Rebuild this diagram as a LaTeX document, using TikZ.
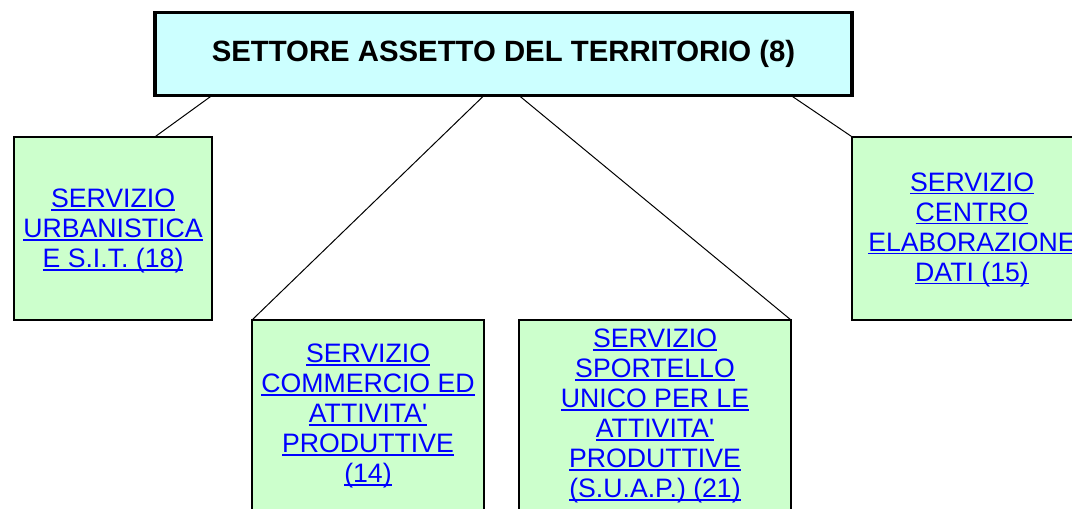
\documentclass[tikz,border=0pt]{standalone}
\usepackage{fontspec}
\setmainfont{Liberation Sans}
\definecolor{titlecyan}{HTML}{CCFFFF}
\definecolor{boxgreen}{HTML}{CCFFCC}
\definecolor{linkblue}{HTML}{0000FF}
\newcommand{\lnk}[1]{\leavevmode\setbox0\hbox{#1}\rlap{\rule[-2.2pt]{\wd0}{1.1pt}}\box0}
\begin{document}
\begin{tikzpicture}[x=0.75pt,y=-0.75pt]
    \tikzstyle{every node}+=[inner sep=0pt,outer sep=0pt]
    \tikzstyle{titlebox}=[draw=black,line width=2.4pt,fill=titlecyan,minimum width=522.75pt,minimum height=62.25pt,font=\fontsize{22}{24}\selectfont\bfseries]
    \tikzstyle{unitbox}=[draw=black,line width=1.6pt,fill=boxgreen]
    \tikzstyle{unitname}=[align=center,text=linkblue,font=\fontsize{20}{22.5}\selectfont]
    \tikzstyle{branch}=[line width=0.75pt]
    \useasboundingbox (0,0) rectangle (1072,508);
    \node[titlebox] (settore) at (503.5,54) {SETTORE ASSETTO DEL TERRITORIO (8)};
    \node[unitbox,minimum width=148.5pt,minimum height=137.25pt] (urb) at (113,228.3) {};
    \node[unitbox,minimum width=174pt,minimum height=187.5pt,anchor=north] (comm) at (368,320) {};
    \node[unitbox,minimum width=204pt,minimum height=187.5pt,anchor=north] (suap) at (655,320) {};
    \node[unitbox,minimum width=180pt,minimum height=137.25pt] (ced) at (972,228.3) {};
    \node[unitname] (urbT) at (113,231.3) {\lnk{SERVIZIO}\\\lnk{URBANISTICA}\\\lnk{E S.I.T. (18)}};
    \node[unitname] (commT) at (368,416.3) {\lnk{SERVIZIO}\\\lnk{COMMERCIO ED}\\\lnk{ATTIVITA\textquotesingle}\\\lnk{PRODUTTIVE}\\\lnk{(14)}};
    \node[unitname] (suapT) at (655,416.3) {\lnk{SERVIZIO}\\\lnk{SPORTELLO}\\\lnk{UNICO PER LE}\\\lnk{ATTIVITA\textquotesingle}\\\lnk{PRODUTTIVE}\\\lnk{(S.U.A.P.) (21)}};
    \node[unitname] (cedT) at (972,230) {\lnk{SERVIZIO}\\\lnk{CENTRO}\\\lnk{ELABORAZIONE}\\\lnk{DATI (15)}};
    \draw[branch] (urb.north east |- settore.south) -- (settore.west |- urb.north);
    \draw[branch] (comm.north east |- settore.south) -- (comm.north west);
    \draw[branch] (suap.north west |- settore.south) -- (suap.north east);
    \draw[branch] (suap.north east |- settore.south) -- (ced.north west);
\end{tikzpicture}
\end{document}
